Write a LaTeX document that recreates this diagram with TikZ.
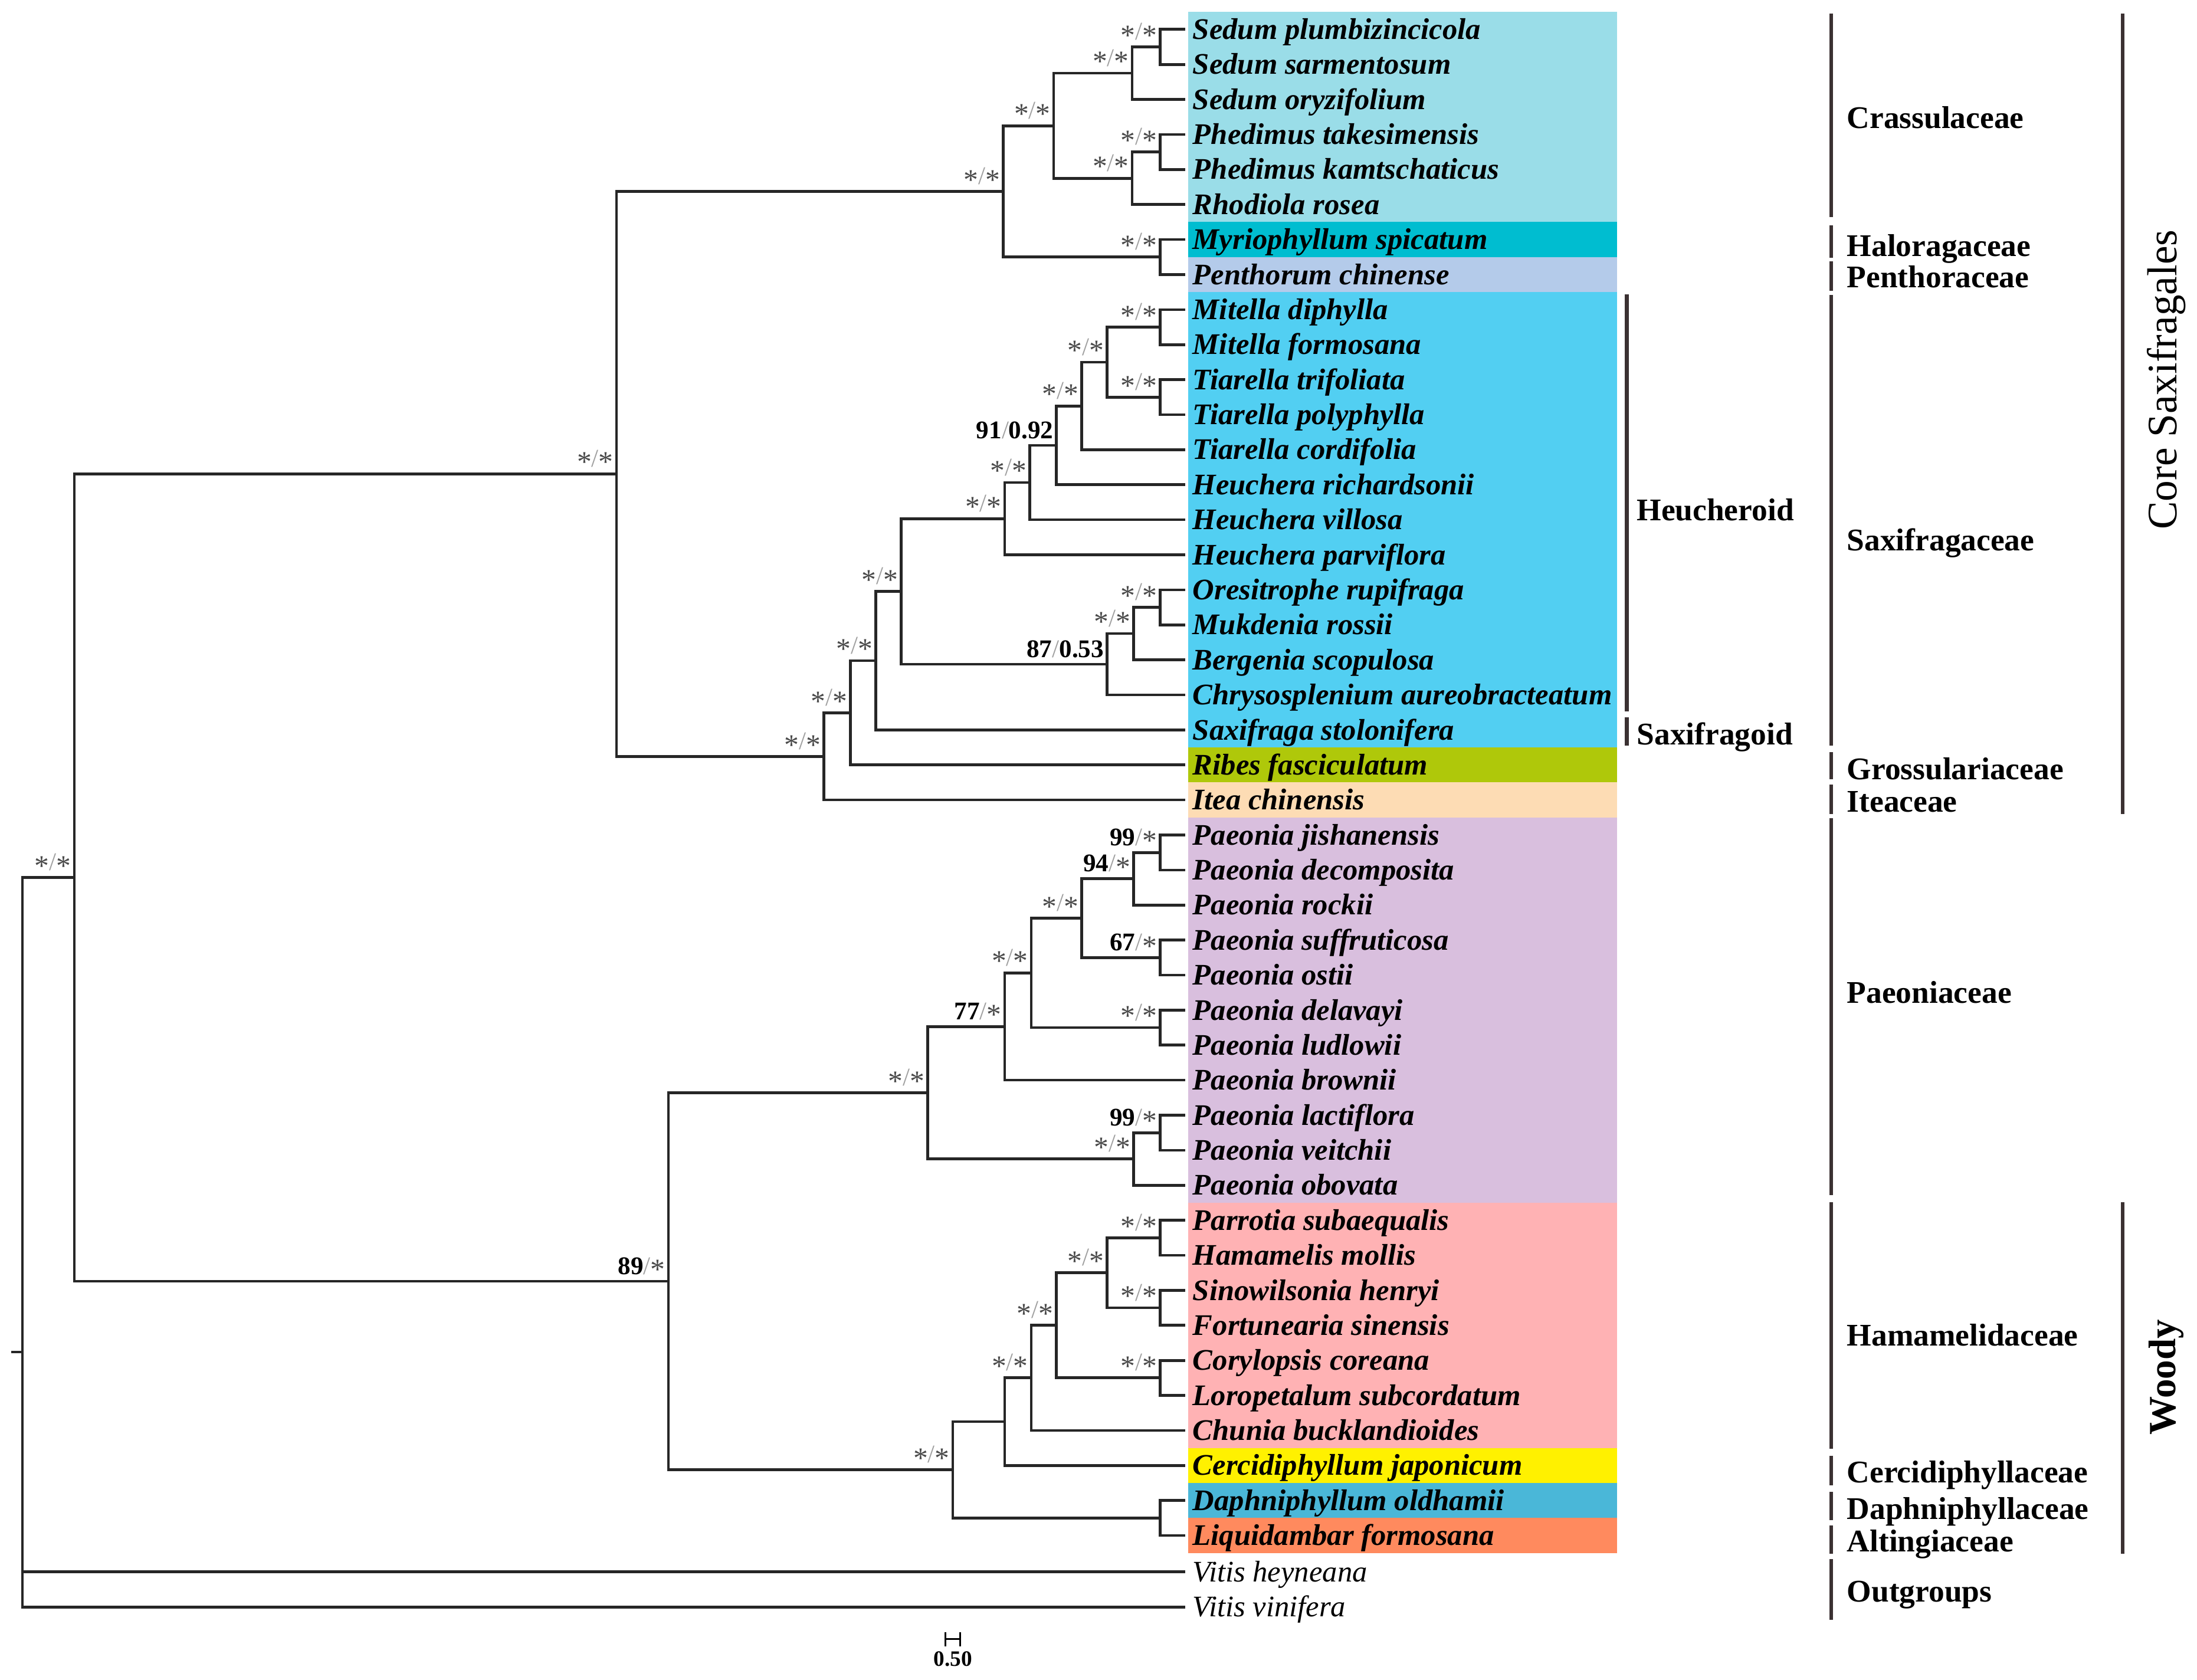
\documentclass[tikz,border=0pt]{standalone}
\usepackage{fontspec}
\setmainfont{Liberation Serif}
\usepackage{tikz}
\definecolor{crass}{HTML}{9ADDE8}
\definecolor{halo}{HTML}{00BDD0}
\definecolor{penth}{HTML}{B4CBEA}
\definecolor{saxi}{HTML}{52CFF2}
\definecolor{ribes}{HTML}{AFC80A}
\definecolor{itea}{HTML}{FDDCB4}
\definecolor{paeon}{HTML}{D9BFDE}
\definecolor{hamam}{HTML}{FFB2B4}
\definecolor{cerci}{HTML}{FFF100}
\definecolor{daph}{HTML}{4AB7D8}
\definecolor{liqu}{HTML}{FF8A5E}
\definecolor{bardark}{HTML}{3B3132}
\definecolor{supgray}{HTML}{4A4A4A}
\definecolor{slashgray}{HTML}{A0A0A0}
\newcommand{\astr}{\raisebox{-0.2em}{\scalebox{1.15}{*}}}
\newcommand{\slsh}{\textcolor{slashgray}{/}}
\newcommand{\bnum}[1]{\textcolor{black}{\bfseries #1}}

\begin{document}
\begin{tikzpicture}[
x = 0.3mm, y = -0.3mm,
branch/.style={line width = 1.7pt, draw = black!85},
taxon/.style={anchor = west, inner xsep = 1.6mm, inner ysep = 0pt, outer sep = 0pt,
text height = 4.2mm, text depth = 0pt, font = \fontsize{18.2}{20}\selectfont\bfseries\itshape},
outtaxon/.style={taxon, font = \fontsize{18.2}{20}\selectfont\itshape},
suplab/.style={anchor = base east, inner sep = 0pt, xshift = -0.6mm, yshift = 1.5mm,
text = supgray, font = \fontsize{15.5}{17}\selectfont},
famlab/.style={anchor = west, inner sep = 0pt, text height = 4.5mm, text depth = 0pt,
font = \fontsize{19.2}{21}\selectfont\bfseries},
grpbar/.style={line width = 2.3pt, draw = bardark},
cladelab/.style={rotate = 90, inner sep = 0pt, font = \fontsize{25.6}{28}\selectfont},
sbar/.style={|-|, line width = 1.2pt}]

\useasboundingbox (0,0) rectangle (1568,1199);

% coloured bands
\fill[crass] (848,8.5) rectangle (1154,158.5);
\fill[halo] (848,158.5) rectangle (1154,183.5);
\fill[penth] (848,183.5) rectangle (1154,208.5);
\fill[saxi] (848,208.5) rectangle (1154,533.5);
\fill[ribes] (848,533.5) rectangle (1154,558.5);
\fill[itea] (848,558.5) rectangle (1154,583.5);
\fill[paeon] (848,583.5) rectangle (1154,858.5);
\fill[hamam] (848,858.5) rectangle (1154,1033.5);
\fill[cerci] (848,1033.5) rectangle (1154,1058.5);
\fill[daph] (848,1058.5) rectangle (1154,1083.5);
\fill[liqu] (848,1083.5) rectangle (1154,1108.5);

% taxa
\node[taxon] (Spl) at (846,21) {Sedum plumbizincicola};
\node[taxon] (Ssa) at (846,46) {Sedum sarmentosum};
\node[taxon] (Sor) at (846,71) {Sedum oryzifolium};
\node[taxon] (Pta) at (846,96) {Phedimus takesimensis};
\node[taxon] (Pka) at (846,121) {Phedimus kamtschaticus};
\node[taxon] (Rro) at (846,146) {Rhodiola rosea};
\node[taxon] (Msp) at (846,171) {Myriophyllum spicatum};
\node[taxon] (Pch) at (846,196) {Penthorum chinense};
\node[taxon] (Mdi) at (846,221) {Mitella diphylla};
\node[taxon] (Mfo) at (846,246) {Mitella formosana};
\node[taxon] (Ttr) at (846,271) {Tiarella trifoliata};
\node[taxon] (Tpo) at (846,296) {Tiarella polyphylla};
\node[taxon] (Tco) at (846,321) {Tiarella cordifolia};
\node[taxon] (Hri) at (846,346) {Heuchera richardsonii};
\node[taxon] (Hvi) at (846,371) {Heuchera villosa};
\node[taxon] (Hpa) at (846,396) {Heuchera parviflora};
\node[taxon] (Oru) at (846,421) {Oresitrophe rupifraga};
\node[taxon] (Mro) at (846,446) {Mukdenia rossii};
\node[taxon] (Bsc) at (846,471) {Bergenia scopulosa};
\node[taxon] (Cau) at (846,496) {Chrysosplenium aureobracteatum};
\node[taxon] (Sst) at (846,521) {Saxifraga stolonifera};
\node[taxon] (Rfa) at (846,546) {Ribes fasciculatum};
\node[taxon] (Ich) at (846,571) {Itea chinensis};
\node[taxon] (Pji) at (846,596) {Paeonia jishanensis};
\node[taxon] (Pde) at (846,621) {Paeonia decomposita};
\node[taxon] (Pro) at (846,646) {Paeonia rockii};
\node[taxon] (Psu) at (846,671) {Paeonia suffruticosa};
\node[taxon] (Pos) at (846,696) {Paeonia ostii};
\node[taxon] (Pdl) at (846,721) {Paeonia delavayi};
\node[taxon] (Plu) at (846,746) {Paeonia ludlowii};
\node[taxon] (Pbr) at (846,771) {Paeonia brownii};
\node[taxon] (Pla) at (846,796) {Paeonia lactiflora};
\node[taxon] (Pve) at (846,821) {Paeonia veitchii};
\node[taxon] (Pob) at (846,846) {Paeonia obovata};
\node[taxon] (Psb) at (846,871) {Parrotia subaequalis};
\node[taxon] (Hmo) at (846,896) {Hamamelis mollis};
\node[taxon] (She) at (846,921) {Sinowilsonia henryi};
\node[taxon] (Fsi) at (846,946) {Fortunearia sinensis};
\node[taxon] (Cco) at (846,971) {Corylopsis coreana};
\node[taxon] (Lsu) at (846,996) {Loropetalum subcordatum};
\node[taxon] (Cbu) at (846,1021) {Chunia bucklandioides};
\node[taxon] (Cja) at (846,1046) {Cercidiphyllum japonicum};
\node[taxon] (Dol) at (846,1071) {Daphniphyllum oldhamii};
\node[taxon] (Lfo) at (846,1096) {Liquidambar formosana};
\node[outtaxon] (Vhe) at (846,1122) {Vitis heyneana};
\node[outtaxon] (Vvi) at (846,1147) {Vitis vinifera};

% internal nodes
\coordinate (c1) at (828,33.5);
\coordinate (c2) at (808,52.25);
\coordinate (c3) at (828,108.5);
\coordinate (c4) at (808,127.25);
\coordinate (c5) at (752,89.75);
\coordinate (c6) at (828,183.5);
\coordinate (c7) at (716,136.6);
\coordinate (s1) at (828,233.5);
\coordinate (s2) at (828,283.5);
\coordinate (s3) at (790,258.5);
\coordinate (s4) at (772,289.75);
\coordinate (s5) at (754,317.9);
\coordinate (s6) at (735,344.4);
\coordinate (s7) at (717,370.2);
\coordinate (s8) at (828,433.5);
\coordinate (s9) at (809,452.25);
\coordinate (s10) at (790,474.1);
\coordinate (s11) at (643,422.2);
\coordinate (s12) at (625,471.6);
\coordinate (s13) at (607,508.8);
\coordinate (s14) at (588,539.9);
\coordinate (core) at (440,338.2);
\coordinate (p1) at (828,608.5);
\coordinate (p2) at (809,627.25);
\coordinate (p3) at (828,683.5);
\coordinate (p4) at (772,655.4);
\coordinate (p5) at (828,733.5);
\coordinate (p6) at (736,694.4);
\coordinate (p7) at (717,732.7);
\coordinate (p8) at (828,808.5);
\coordinate (p9) at (809,827.25);
\coordinate (p10) at (662,780);
\coordinate (h1) at (828,883.5);
\coordinate (h2) at (828,933.5);
\coordinate (h3) at (790,908.5);
\coordinate (h4) at (828,983.5);
\coordinate (h5) at (754,946);
\coordinate (h6) at (736,983.5);
\coordinate (h7) at (717,1014.75);
\coordinate (h8) at (828,1083.5);
\coordinate (h9) at (680,1049.1);
\coordinate (woody) at (477,914.5);
\coordinate (ingrp) at (53,626.4);
\coordinate (rt) at (16,965);
\coordinate (rtstub) at (8,965);

% branches
\draw[branch] (c1) |- (Spl.west);
\draw[branch] (c1) |- (Ssa.west);
\draw[branch] (c2) |- (c1);
\draw[branch] (c2) |- (Sor.west);
\draw[branch] (c3) |- (Pta.west);
\draw[branch] (c3) |- (Pka.west);
\draw[branch] (c4) |- (c3);
\draw[branch] (c4) |- (Rro.west);
\draw[branch] (c5) |- (c2);
\draw[branch] (c5) |- (c4);
\draw[branch] (c6) |- (Msp.west);
\draw[branch] (c6) |- (Pch.west);
\draw[branch] (c7) |- (c5);
\draw[branch] (c7) |- (c6);
\draw[branch] (s1) |- (Mdi.west);
\draw[branch] (s1) |- (Mfo.west);
\draw[branch] (s2) |- (Ttr.west);
\draw[branch] (s2) |- (Tpo.west);
\draw[branch] (s3) |- (s1);
\draw[branch] (s3) |- (s2);
\draw[branch] (s4) |- (s3);
\draw[branch] (s4) |- (Tco.west);
\draw[branch] (s5) |- (s4);
\draw[branch] (s5) |- (Hri.west);
\draw[branch] (s6) |- (s5);
\draw[branch] (s6) |- (Hvi.west);
\draw[branch] (s7) |- (s6);
\draw[branch] (s7) |- (Hpa.west);
\draw[branch] (s8) |- (Oru.west);
\draw[branch] (s8) |- (Mro.west);
\draw[branch] (s9) |- (s8);
\draw[branch] (s9) |- (Bsc.west);
\draw[branch] (s10) |- (s9);
\draw[branch] (s10) |- (Cau.west);
\draw[branch] (s11) |- (s7);
\draw[branch] (s11) |- (s10);
\draw[branch] (s12) |- (s11);
\draw[branch] (s12) |- (Sst.west);
\draw[branch] (s13) |- (s12);
\draw[branch] (s13) |- (Rfa.west);
\draw[branch] (s14) |- (s13);
\draw[branch] (s14) |- (Ich.west);
\draw[branch] (core) |- (c7);
\draw[branch] (core) |- (s14);
\draw[branch] (p1) |- (Pji.west);
\draw[branch] (p1) |- (Pde.west);
\draw[branch] (p2) |- (p1);
\draw[branch] (p2) |- (Pro.west);
\draw[branch] (p3) |- (Psu.west);
\draw[branch] (p3) |- (Pos.west);
\draw[branch] (p4) |- (p2);
\draw[branch] (p4) |- (p3);
\draw[branch] (p5) |- (Pdl.west);
\draw[branch] (p5) |- (Plu.west);
\draw[branch] (p6) |- (p4);
\draw[branch] (p6) |- (p5);
\draw[branch] (p7) |- (p6);
\draw[branch] (p7) |- (Pbr.west);
\draw[branch] (p8) |- (Pla.west);
\draw[branch] (p8) |- (Pve.west);
\draw[branch] (p9) |- (p8);
\draw[branch] (p9) |- (Pob.west);
\draw[branch] (p10) |- (p7);
\draw[branch] (p10) |- (p9);
\draw[branch] (h1) |- (Psb.west);
\draw[branch] (h1) |- (Hmo.west);
\draw[branch] (h2) |- (She.west);
\draw[branch] (h2) |- (Fsi.west);
\draw[branch] (h3) |- (h1);
\draw[branch] (h3) |- (h2);
\draw[branch] (h4) |- (Cco.west);
\draw[branch] (h4) |- (Lsu.west);
\draw[branch] (h5) |- (h3);
\draw[branch] (h5) |- (h4);
\draw[branch] (h6) |- (h5);
\draw[branch] (h6) |- (Cbu.west);
\draw[branch] (h7) |- (h6);
\draw[branch] (h7) |- (Cja.west);
\draw[branch] (h8) |- (Dol.west);
\draw[branch] (h8) |- (Lfo.west);
\draw[branch] (h9) |- (h7);
\draw[branch] (h9) |- (h8);
\draw[branch] (woody) |- (p10);
\draw[branch] (woody) |- (h9);
\draw[branch] (ingrp) |- (core);
\draw[branch] (ingrp) |- (woody);
\draw[branch] (rt) |- (ingrp);
\draw[branch] (rt) |- (Vhe.west);
\draw[branch] (rt) |- (Vvi.west);
\draw[branch] (rtstub) -- (rt);

% support values
\node[suplab] (lc1) at (c1) {\astr\slsh\astr};
\node[suplab] (lc2) at (c2) {\astr\slsh\astr};
\node[suplab] (lc3) at (c3) {\astr\slsh\astr};
\node[suplab] (lc4) at (c4) {\astr\slsh\astr};
\node[suplab] (lc5) at (c5) {\astr\slsh\astr};
\node[suplab] (lc6) at (c6) {\astr\slsh\astr};
\node[suplab] (lc7) at (c7) {\astr\slsh\astr};
\node[suplab] (ls1) at (s1) {\astr\slsh\astr};
\node[suplab] (ls2) at (s2) {\astr\slsh\astr};
\node[suplab] (ls3) at (s3) {\astr\slsh\astr};
\node[suplab] (ls4) at (s4) {\astr\slsh\astr};
\node[suplab] (ls5) at (s5) {\bnum{91}\slsh\bnum{0.92}};
\node[suplab] (ls6) at (s6) {\astr\slsh\astr};
\node[suplab] (ls7) at (s7) {\astr\slsh\astr};
\node[suplab] (ls8) at (s8) {\astr\slsh\astr};
\node[suplab] (ls9) at (s9) {\astr\slsh\astr};
\node[suplab] (ls10) at (s10) {\bnum{87}\slsh\bnum{0.53}};
\node[suplab] (ls11) at (s11) {\astr\slsh\astr};
\node[suplab] (ls12) at (s12) {\astr\slsh\astr};
\node[suplab] (ls13) at (s13) {\astr\slsh\astr};
\node[suplab] (ls14) at (s14) {\astr\slsh\astr};
\node[suplab] (lcore) at (core) {\astr\slsh\astr};
\node[suplab] (lp1) at (p1) {\bnum{99}\slsh\astr};
\node[suplab] (lp2) at (p2) {\bnum{94}\slsh\astr};
\node[suplab] (lp3) at (p3) {\bnum{67}\slsh\astr};
\node[suplab] (lp4) at (p4) {\astr\slsh\astr};
\node[suplab] (lp5) at (p5) {\astr\slsh\astr};
\node[suplab] (lp6) at (p6) {\astr\slsh\astr};
\node[suplab] (lp7) at (p7) {\bnum{77}\slsh\astr};
\node[suplab] (lp8) at (p8) {\bnum{99}\slsh\astr};
\node[suplab] (lp9) at (p9) {\astr\slsh\astr};
\node[suplab] (lp10) at (p10) {\astr\slsh\astr};
\node[suplab] (lh1) at (h1) {\astr\slsh\astr};
\node[suplab] (lh2) at (h2) {\astr\slsh\astr};
\node[suplab] (lh3) at (h3) {\astr\slsh\astr};
\node[suplab] (lh4) at (h4) {\astr\slsh\astr};
\node[suplab] (lh5) at (h5) {\astr\slsh\astr};
\node[suplab] (lh6) at (h6) {\astr\slsh\astr};
\node[suplab] (lh9) at (h9) {\astr\slsh\astr};
\node[suplab] (lwoody) at (woody) {\bnum{89}\slsh\astr};
\node[suplab] (lingrp) at (ingrp) {\astr\slsh\astr};

% scale bar
\coordinate (sbl) at (674,1170);
\coordinate (sbr) at (686,1170);
\draw[sbar] (sbl) -- (sbr);
\node[font = \fontsize{13.4}{15}\selectfont\bfseries, inner sep = 0pt] (sblab) at (680,1184) {0.50};

% subgroup bars
\draw[grpbar] (1161,210) -- (1161,508);
\node[famlab] (Heu) at (1168,364) {Heucheroid};
\draw[grpbar] (1161,512) -- (1161,532);
\node[famlab] (Sxg) at (1168,524) {Saxifragoid};

% family bars
\draw[grpbar] (1307,9.5) -- (1307,155);
\node[famlab] (Cra) at (1318,84) {Crassulaceae};
\draw[grpbar] (1307,161) -- (1307,184);
\node[famlab] (Hal) at (1318,175.6) {Haloragaceae};
\draw[grpbar] (1307,186.5) -- (1307,207.5);
\node[famlab] (Pen) at (1318,197.6) {Penthoraceae};
\draw[grpbar] (1307,210.5) -- (1307,532);
\node[famlab] (Sax) at (1318,385.5) {Saxifragaceae};
\draw[grpbar] (1307,537) -- (1307,556);
\node[famlab] (Gro) at (1318,549) {Grossulariaceae};
\draw[grpbar] (1307,560) -- (1307,581);
\node[famlab] (Ite) at (1318,572) {Iteaceae};
\draw[grpbar] (1307,584) -- (1307,853);
\node[famlab] (Pae) at (1318,708.6) {Paeoniaceae};
\draw[grpbar] (1307,858) -- (1307,1034);
\node[famlab] (Ham) at (1318,953) {Hamamelidaceae};
\draw[grpbar] (1307,1039) -- (1307,1060);
\node[famlab] (Cer) at (1318,1051) {Cercidiphyllaceae};
\draw[grpbar] (1307,1065) -- (1307,1085);
\node[famlab] (Dap) at (1318,1077) {Daphniphyllaceae};
\draw[grpbar] (1307,1089) -- (1307,1109);
\node[famlab] (Alt) at (1318,1100) {Altingiaceae};
\draw[grpbar] (1307,1113) -- (1307,1156);
\node[famlab] (Out) at (1318,1136) {Outgroups};

% clade bars
\draw[grpbar] (1515,9.5) -- (1515,581);
\node[cladelab] (Csx) at (1546,271) {Core Saxifragales};
\draw[grpbar] (1515,858) -- (1515,1109);
\node[cladelab, font = \fontsize{23.4}{26}\selectfont\bfseries] (Wdy) at (1546,983) {Woody};

\end{tikzpicture}
\end{document}
